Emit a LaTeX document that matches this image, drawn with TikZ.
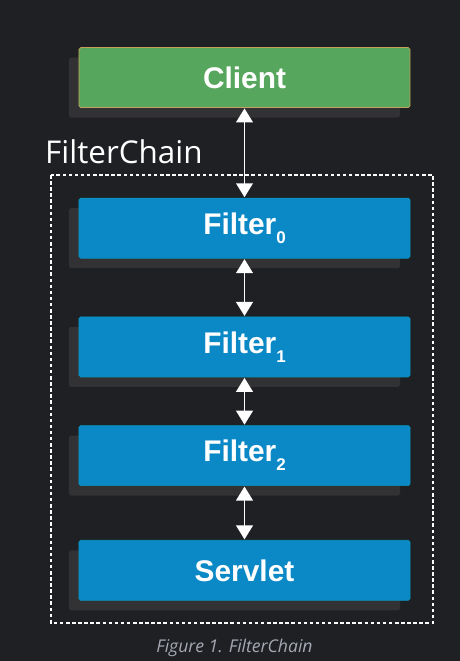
\documentclass[tikz,border=0pt]{standalone}
\usepackage{fontspec}
\newfontfamily\boxfont{Liberation Sans}
\newfontfamily\labelfont{Open Sans}
\usepackage{xcolor}
\definecolor{fcBack}{RGB}{30,32,36}
\definecolor{fcShadow}{RGB}{50,50,53}
\definecolor{fcGreen}{RGB}{87,166,93}
\definecolor{fcGreenEdge}{RGB}{196,160,88}
\definecolor{fcBlue}{RGB}{11,136,198}
\definecolor{fcBlueEdge}{RGB}{8,150,190}
\definecolor{fcCaption}{RGB}{165,168,178}
\usepackage{tikz}
\usetikzlibrary{positioning,arrows.meta,shadows}

\newcommand{\sub}[1]{\raisebox{-0.3em}{\fontsize{14.5pt}{16pt}\selectfont #1}}

\begin{document}
\begin{tikzpicture}[x=0.03cm,y=-0.03cm,node distance=1.6cm,
  box/.style={rounded corners=1.5pt,line width=0.6pt,minimum width=9.93cm,minimum height=1.8cm,inner sep=0pt,
    text=white,font=\boxfont\bfseries\fontsize{25.5pt}{28pt}\selectfont,
    drop shadow={shadow xshift=-0.3cm,shadow yshift=-0.3cm,fill=fcShadow,opacity=1}},
  client/.style={box,draw=fcGreenEdge,fill=fcGreen},
  stage/.style={box,draw=fcBlueEdge,fill=fcBlue},
  a/.style={{Triangle[width=0.5cm,length=0.42cm]}-{Triangle[width=0.5cm,length=0.42cm]},white,line width=1.7pt,shorten <=0.5pt,shorten >=0.5pt}]
  \fill[fcBack] (0,0) rectangle (460,661);
  \useasboundingbox (0,0) rectangle (460,661);

  \node[client] (client) at (244.5,77.5) {Client};
  \node[stage,below=2.7cm of client] (f0) {Filter\sub{0}};
  \node[stage,below=1.74cm of f0] (f1) {Filter\sub{1}};
  \node[stage,below=1.44cm of f1] (f2) {Filter\sub{2}};
  \node[stage,below=1.62cm of f2] (servlet) {Servlet};

  \draw[white,line width=0.9pt,dash pattern=on 3pt off 2.2pt] (51,175) rectangle (433,623);
  \node[anchor=base west,inner sep=0pt,text=white,font=\labelfont\fontsize{26.8pt}{30pt}\selectfont] (chain) at (45,163) {FilterChain};

  \draw[a] (client) -- (f0);
  \draw[a] (f0) -- (f1);
  \draw[a] (f1) -- (f2);
  \draw[a] (f2) -- (servlet);

  \node[text=fcCaption,font=\labelfont\itshape\fontsize{15pt}{18pt}\selectfont] (caption) at (234.5,648) {Figure 1. FilterChain};
\end{tikzpicture}
\end{document}
